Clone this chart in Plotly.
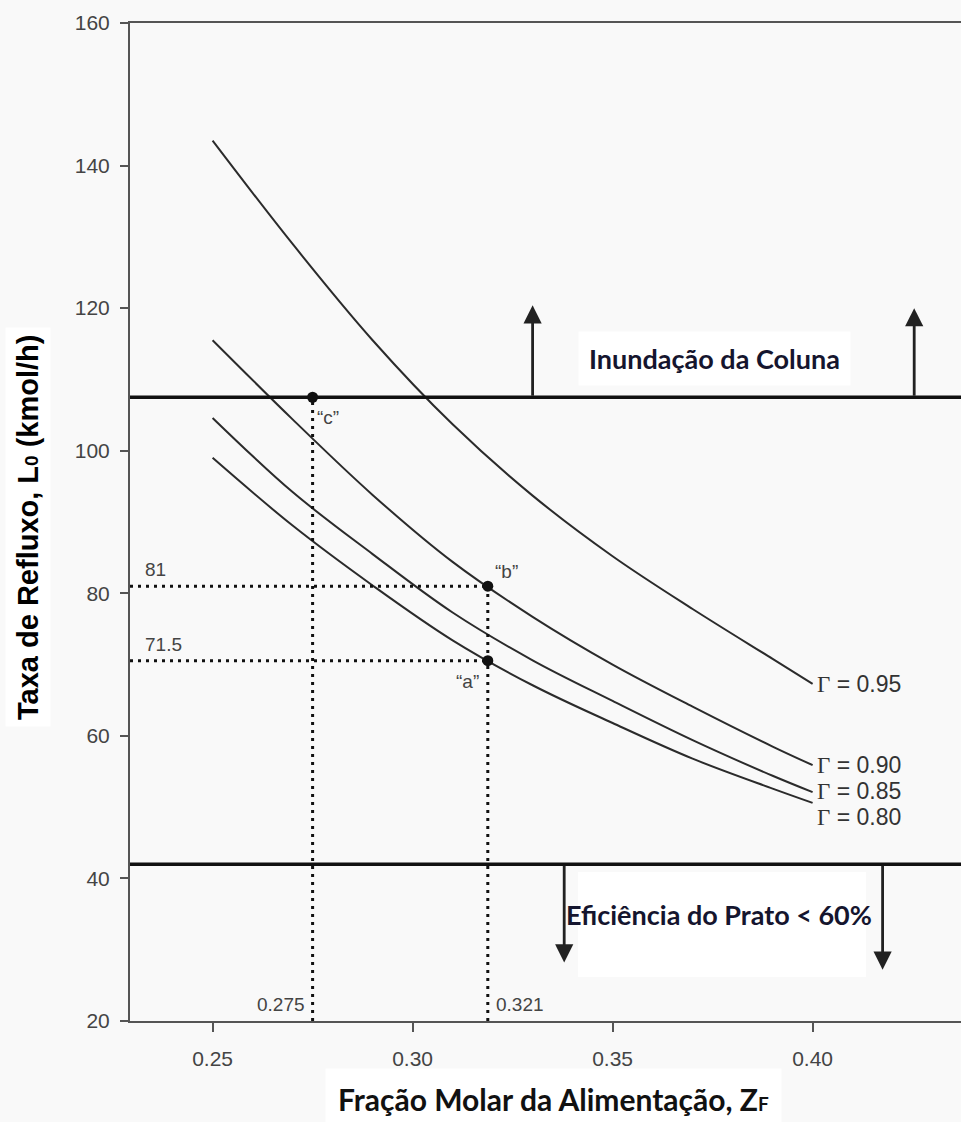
import plotly.graph_objects as go

# ---------------- data ----------------
zf = [0.25, 0.27, 0.29, 0.31, 0.33, 0.35, 0.37, 0.39, 0.40]
gamma_labels = ["0.95", "0.90", "0.85", "0.80"]
L_095 = [143.5, 129.0, 115.5, 103.7, 93.7, 85.2, 77.8, 70.8, 67.3]
L_090 = [115.5, 104.4, 93.8, 84.4, 76.7, 70.0, 64.1, 58.5, 55.9]
L_085 = [104.6, 94.2, 85.5, 77.3, 70.6, 64.9, 59.4, 54.4, 52.1]
L_080 = [99.0, 89.5, 81.1, 73.4, 67.1, 61.8, 56.8, 52.6, 50.6]
curves = [L_095, L_090, L_085, L_080]
label_y = [67.3, 55.9, 52.3, 48.6]

flood_limit = 107.5
eff_limit = 42.0

pt_names = ["“c”", "“b”", "“a”"]
pt_x = [0.275, 0.3188, 0.3188]
pt_y = [107.5, 81.0, 70.55]

x_ticks = [0.25, 0.30, 0.35, 0.40]
y_ticks = [20, 40, 60, 80, 100, 120, 140, 160]
X_MIN, X_MAX = 0.22935, 0.4371
Y_MIN, Y_MAX = 20, 160

# ---------------- layout helpers ----------------
W, H = 961, 1122
ML, MR, MT, MB = 130, 0, 23, 101
PW, PH = W - ML - MR, H - MT - MB


def px(xp):
    return (xp - ML) / PW


def py(yp):
    return (H - MB - yp) / PH


INK = "#2b2b2b"
fig = go.Figure()

for ys in curves:
    fig.add_trace(go.Scatter(x=zf, y=ys, mode="lines",
                             line=dict(color=INK, width=2, shape="spline", smoothing=1.0),
                             hoverinfo="skip", showlegend=False))

dot = dict(color="#111", width=3, dash="3px,5px")
for yv in pt_y[1:]:
    fig.add_trace(go.Scatter(x=[X_MIN, pt_x[1]], y=[yv, yv], mode="lines", line=dot,
                             hoverinfo="skip", showlegend=False))
fig.add_trace(go.Scatter(x=[pt_x[0], pt_x[0]], y=[Y_MIN, pt_y[0]], mode="lines", line=dot,
                         hoverinfo="skip", showlegend=False))
fig.add_trace(go.Scatter(x=[pt_x[1], pt_x[1]], y=[Y_MIN, pt_y[1]], mode="lines", line=dot,
                         hoverinfo="skip", showlegend=False))

for yv in [flood_limit, eff_limit]:
    fig.add_shape(type="line", xref="x domain", yref="y", x0=0, x1=1, y0=yv, y1=yv,
                  line=dict(color="#111", width=3.5), layer="above")

fig.add_shape(type="rect", xref="paper", yref="paper",
              x0=px(578), x1=px(866), y0=py(977), y1=py(872),
              fillcolor="white", line=dict(width=0), layer="below")

fig.add_trace(go.Scatter(x=pt_x, y=pt_y, mode="markers",
                         marker=dict(color="#111", size=11),
                         hoverinfo="skip", showlegend=False))

ann = []
for g, yl in zip(gamma_labels, label_y):
    ann.append(dict(x=0.4005, y=yl, xref="x", yref="y", xanchor="left", yanchor="middle",
                    showarrow=False,
                    text="<span style='font-family:Liberation Serif'>Γ</span> = " + g,
                    font=dict(family="Liberation Sans", size=23, color="#333")))

small = dict(family="Liberation Sans", size=19, color="#444")
ann.append(dict(x=0.2326, y=pt_y[1] + 2.3, text="81", xanchor="left", yanchor="middle",
                showarrow=False, font=small))
ann.append(dict(x=0.2326, y=pt_y[2] + 2.2, text="71.5", xanchor="left", yanchor="middle",
                showarrow=False, font=small))
ann.append(dict(x=0.2788, y=104.6, text=pt_names[0], xanchor="center", yanchor="middle",
                showarrow=False, font=small))
ann.append(dict(x=0.3235, y=83.0, text=pt_names[1], xanchor="center", yanchor="middle",
                showarrow=False, font=small))
ann.append(dict(x=0.3138, y=67.6, text=pt_names[2], xanchor="center", yanchor="middle",
                showarrow=False, font=small))
ann.append(dict(x=0.2737, y=22.3, text="0.275", xanchor="right", yanchor="middle",
                showarrow=False, font=small))
ann.append(dict(x=0.3204, y=22.3, text="0.321", xanchor="left", yanchor="middle",
                showarrow=False, font=small))

for xa, y0, y1 in [(0.33, flood_limit, 120.4), (0.4254, flood_limit, 120.0),
                   (0.3379, eff_limit, 28.2), (0.4175, eff_limit, 27.2)]:
    ann.append(dict(x=xa, y=y1, ax=xa, ay=y0, xref="x", yref="y", axref="x", ayref="y",
                    text="", showarrow=True, arrowhead=2, arrowsize=1.3, arrowwidth=2.8,
                    arrowcolor="#222", standoff=0, startstandoff=0))

bold = dict(family="Lato", size=27, color="#15152e", weight="bold")
ann.append(dict(x=0.3755, y=113.0, text="Inundação da Coluna", xanchor="center",
                yanchor="middle", showarrow=False, font=bold, bgcolor="white",
                borderpad=10))
ann.append(dict(x=0.3767, y=35.0, text="Eficiência do Prato &lt; 60%", xanchor="center",
                yanchor="middle", showarrow=False, font=bold))

ann.append(dict(xref="paper", yref="paper", x=px(28), y=py(527), textangle=-90,
                text="Taxa de Refluxo, L<span style='font-size:19px'>0</span> (kmol/h)",
                showarrow=False, xanchor="center", yanchor="middle",
                font=dict(family="Liberation Sans", size=29, color="#000", weight="bold"),
                bgcolor="white", borderpad=6))
ann.append(dict(xref="paper", yref="paper", x=px(553), y=py(1099),
                text="Fração Molar da Alimentação, Z<span style='font-size:19px'>F</span>",
                showarrow=False, xanchor="center", yanchor="middle",
                font=dict(family="Lato", size=30, color="#111", weight="bold"),
                bgcolor="white", borderpad=12))

axis_common = dict(showline=True, linecolor="#555", linewidth=2, ticks="outside",
                   tickcolor="#555", tickwidth=2, showgrid=False, zeroline=False,
                   tickfont=dict(family="Liberation Sans", size=21, color="#444"))

fig.update_layout(
    width=W, height=H,
    margin=dict(l=ML, r=MR, t=MT, b=MB),
    paper_bgcolor="#f9f9f9", plot_bgcolor="#f9f9f9",
    showlegend=False,
    annotations=ann,
    xaxis=dict(range=[X_MIN, X_MAX], tickvals=x_ticks,
               ticktext=[f"{v:.2f}" for v in x_ticks], mirror=True, ticklen=9,
               ticklabelstandoff=9, **axis_common),
    yaxis=dict(range=[Y_MIN, Y_MAX], tickvals=y_ticks, ticklen=8,
               ticklabelstandoff=6, **axis_common),
)

fig.write_html("out.html")
